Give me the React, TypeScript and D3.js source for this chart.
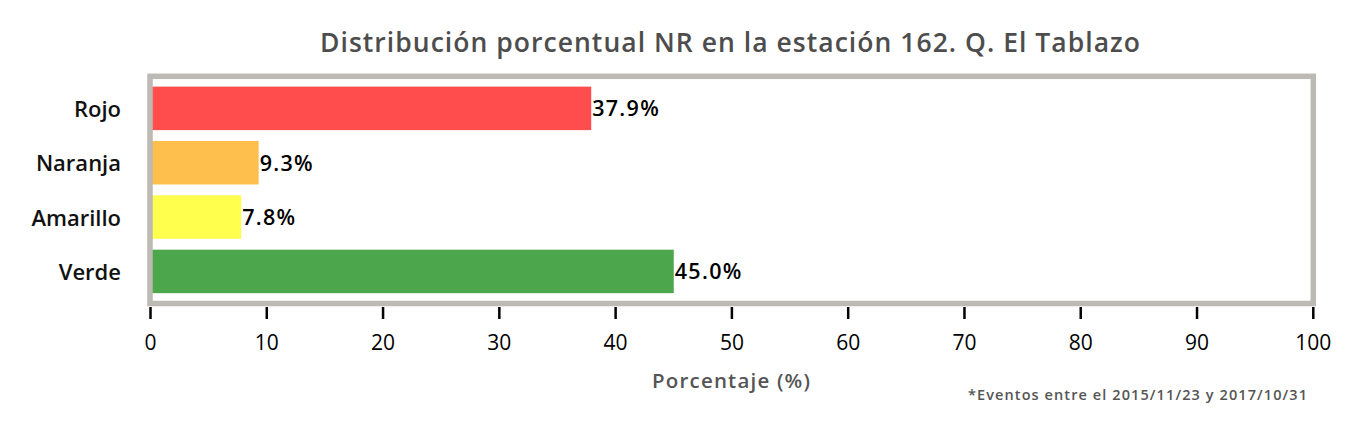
import React from "react";
import * as d3 from "d3";

const categories = ["Verde", "Amarillo", "Naranja", "Rojo"];
const values = [45.0, 7.8, 9.3, 37.9];
const colors = ["#4ca64c", "#ffff4d", "#ffbf4d", "#ff4d4d"];
const xTicks = [0, 10, 20, 30, 40, 50, 60, 70, 80, 90, 100];
const title = "Distribución porcentual NR en la estación 162. Q. El Tablazo";
const xLabel = "Porcentaje (%)";
const footnote = "*Eventos entre el 2015/11/23 y 2017/10/31";

const W = 1363;
const H = 435;
const left = 150.5;
const right = 1313.3;
const top = 76.3;
const bottom = 303.5;
const font = "'Open Sans', 'Noto Sans', sans-serif";

export default function App() {
  const x = d3.scaleLinear().domain([0, 100]).range([left, right]);
  const y = d3.scaleLinear().domain([-0.59, 3.59]).range([bottom, top]);
  const bh = y(0) - y(0.8);
  return (
    <svg width={W} height={H} style={{ position: "absolute", left: 0, top: 0 }}>
      <rect x={0} y={0} width={W} height={H} fill="#fff" />
      <defs>
        <clipPath id="plot">
          <rect x={left} y={top} width={right - left} height={bottom - top} />
        </clipPath>
      </defs>
      <text x={320} y={51.7} textLength={820} lengthAdjust="spacing" fontFamily={font} fontSize={26.5} fontWeight={600} fill="#4d4d4d">
        {title}
      </text>
      <g clipPath="url(#plot)">
        {categories.map((c, i) => (
          <rect key={c} x={x(0)} y={y(i + 0.4)} width={x(values[i]) - x(0)} height={bh} fill={colors[i]} />
        ))}
      </g>
      <rect x={left - 0.5} y={top} width={right - left + 0.5} height={bottom - top} fill="none" stroke="#bdb9b4" strokeWidth={5.5} />
      {categories.map((c, i) => (
        <text key={c} x={121} y={y(i) + 8.5} textAnchor="end" fontFamily={font} fontSize={22} fontWeight={600} fill="#111">
          {c}
        </text>
      ))}
      {categories.map((c, i) => (
        <text key={c + "v"} x={x(values[i]) + 1} y={y(i) + 8} fontFamily={font} fontSize={21.5} fontWeight={600} letterSpacing={1.3} fill="#000">
          {values[i].toFixed(1) + "%"}
        </text>
      ))}
      {xTicks.map((t) => (
        <g key={t}>
          <line x1={x(t)} x2={x(t)} y1={307} y2={319} stroke="#000" strokeWidth={2.5} />
          <text x={x(t)} y={350} textAnchor="middle" fontFamily={font} fontSize={21} fontWeight={500} fill="#000">
            {t}
          </text>
        </g>
      ))}
      <text x={652} y={388.3} textLength={158} lengthAdjust="spacing" fontFamily={font} fontSize={20.5} fontWeight={600} fill="#555">
        {xLabel}
      </text>
      <text x={968} y={400} textLength={339} lengthAdjust="spacing" fontFamily={font} fontSize={14.5} fontWeight={600} fill="#555">
        {footnote}
      </text>
    </svg>
  );
}
